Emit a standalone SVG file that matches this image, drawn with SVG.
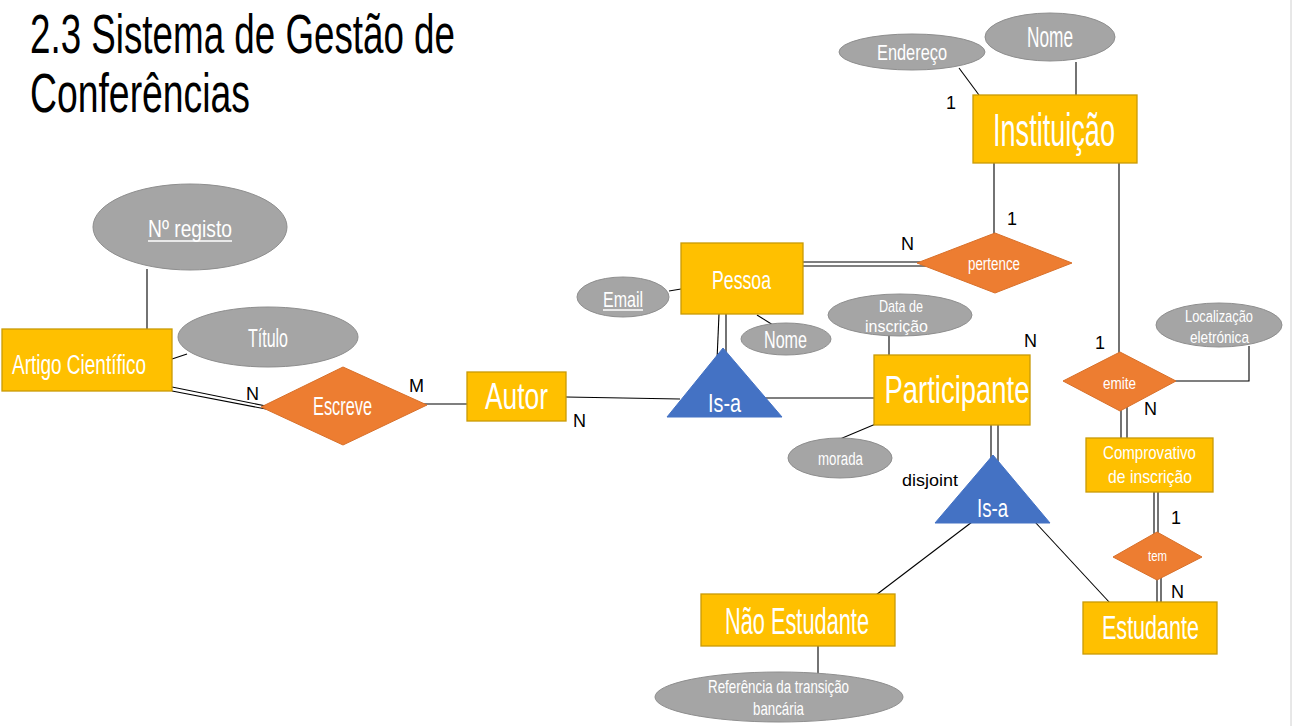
<svg xmlns="http://www.w3.org/2000/svg" width="1292" height="726" viewBox="0 0 1292 726">
<style>
.ent{fill:#FFC000;stroke:#C99A06;stroke-width:1.3}
.att{fill:#A5A5A5;stroke:#8E8E8E;stroke-width:1}
.rel{fill:#ED7D31;stroke:#D8702A;stroke-width:1}
.isa{fill:#4472C4;stroke:#4472C4;stroke-width:1}
.w{fill:#FFFFFF;font-family:"Liberation Sans",sans-serif;text-anchor:middle}
.c{fill:#000000;font-family:"Liberation Sans",sans-serif;font-size:18px}
.ttl{fill:#000000;font-family:"Liberation Sans",sans-serif;font-size:56px}
#connectors line,#connectors polyline{stroke:#000;stroke-width:1.1;fill:none}
.ul{stroke:#FFFFFF;stroke-width:1.3}
</style>
<rect x="0" y="0" width="1292" height="726" fill="#FFFFFF"/>
<line x1="1291" y1="0" x2="1291" y2="726" stroke="#D0D0D0" stroke-width="1"/>
<g id="title">
<text class="ttl" x="30" y="53" textLength="425" lengthAdjust="spacingAndGlyphs">2.3 Sistema de Gestão de</text>
<text class="ttl" x="30" y="112" textLength="220" lengthAdjust="spacingAndGlyphs">Conferências</text>
</g>
<g id="connectors">
<line x1="959" y1="68" x2="979" y2="95"/>
<line x1="1076" y1="62" x2="1076" y2="95"/>
<line x1="994" y1="163" x2="994" y2="234"/>
<line x1="1119" y1="163" x2="1119" y2="353"/>
<line x1="803" y1="262" x2="920" y2="262"/>
<line x1="803" y1="266" x2="926" y2="266"/>
<line x1="669" y1="291" x2="681" y2="289"/>
<line x1="757" y1="315" x2="773" y2="325"/>
<line x1="719" y1="314" x2="717" y2="360"/>
<line x1="726" y1="314" x2="726" y2="360"/>
<line x1="566" y1="397" x2="680" y2="399"/>
<line x1="765" y1="398" x2="874" y2="398"/>
<line x1="889" y1="333" x2="889" y2="355"/>
<line x1="840" y1="439" x2="878" y2="423"/>
<line x1="991" y1="425" x2="991" y2="465"/>
<line x1="998" y1="425" x2="998" y2="465"/>
<line x1="972" y1="522" x2="876" y2="595"/>
<line x1="1035" y1="522" x2="1110" y2="603"/>
<line x1="818" y1="646" x2="818" y2="674"/>
<polyline points="1170,381 1249,381 1249,346"/>
<line x1="1121" y1="400" x2="1121" y2="438"/>
<line x1="1127" y1="400" x2="1127" y2="438"/>
<line x1="1154" y1="492" x2="1154" y2="540"/>
<line x1="1158" y1="492" x2="1158" y2="540"/>
<line x1="1157" y1="570" x2="1157" y2="602"/>
<line x1="1161" y1="570" x2="1161" y2="602"/>
<line x1="172" y1="359" x2="187" y2="354"/>
<line x1="147" y1="269" x2="147" y2="329"/>
<line x1="172" y1="387" x2="266" y2="406"/>
<line x1="172" y1="391" x2="266" y2="409"/>
<line x1="420" y1="404" x2="467" y2="404"/>
</g>
<g id="artigo"><rect class="ent" x="2" y="329" width="170" height="62"/>
<text class="w" x="12" y="374" font-size="27" style="text-anchor:start" textLength="134" lengthAdjust="spacingAndGlyphs">Artigo Científico</text></g>
<g id="nregisto"><ellipse class="att" cx="190" cy="227" rx="97" ry="43"/>
<text class="w" x="190" y="237" font-size="24" textLength="84" lengthAdjust="spacingAndGlyphs">Nº registo</text>
<line class="ul" x1="148" y1="241" x2="232" y2="241"/></g>
<g id="titulo"><ellipse class="att" cx="268" cy="337" rx="90" ry="30"/>
<text class="w" x="268" y="347" font-size="26" textLength="40" lengthAdjust="spacingAndGlyphs">Título</text></g>
<g id="escreve"><polygon class="rel" points="261,407 343,367 427,405 343,445"/>
<text class="w" x="342.5" y="415" font-size="25" textLength="59" lengthAdjust="spacingAndGlyphs">Escreve</text></g>
<g id="autor"><rect class="ent" x="467" y="372" width="99" height="49"/>
<text class="w" x="516.5" y="409" font-size="37" textLength="63" lengthAdjust="spacingAndGlyphs">Autor</text></g>
<g id="pessoa"><rect class="ent" x="681" y="243" width="122" height="71"/>
<text class="w" x="741.5" y="289" font-size="25" textLength="59" lengthAdjust="spacingAndGlyphs">Pessoa</text></g>
<g id="email"><ellipse class="att" cx="623" cy="297" rx="46" ry="20"/>
<text class="w" x="623" y="307" font-size="22" textLength="40" lengthAdjust="spacingAndGlyphs">Email</text>
<line class="ul" x1="603" y1="310" x2="643" y2="310"/></g>
<g id="nomePessoa"><ellipse class="att" cx="786" cy="339" rx="45" ry="16"/>
<text class="w" x="785.5" y="348" font-size="24" textLength="43" lengthAdjust="spacingAndGlyphs">Nome</text></g>
<g id="isa1"><polygon class="isa" points="723,348 667,417 782,417"/>
<text class="w" x="724.5" y="412" font-size="26" textLength="33" lengthAdjust="spacingAndGlyphs">Is-a</text></g>
<g id="participante"><rect class="ent" x="874" y="355" width="156" height="70"/>
<text class="w" x="957" y="403" font-size="39" textLength="145" lengthAdjust="spacingAndGlyphs">Participante</text></g>
<g id="dataInscricao"><ellipse class="att" cx="900" cy="315" rx="72" ry="21"/>
<text class="w" x="901" y="312" font-size="17" textLength="44" lengthAdjust="spacingAndGlyphs">Data de</text>
<text class="w" x="896.5" y="332" font-size="17" textLength="63" lengthAdjust="spacingAndGlyphs">inscrição</text></g>
<g id="morada"><ellipse class="att" cx="840" cy="458" rx="52" ry="20"/>
<text class="w" x="840.5" y="465" font-size="18" textLength="45" lengthAdjust="spacingAndGlyphs">morada</text></g>
<g id="pertence"><polygon class="rel" points="917,263 995,233 1072,263 995,293"/>
<text class="w" x="994" y="270" font-size="18" textLength="52" lengthAdjust="spacingAndGlyphs">pertence</text></g>
<g id="instituicao"><rect class="ent" x="973" y="95" width="164" height="68"/>
<text class="w" x="1054" y="146" font-size="47" textLength="122" lengthAdjust="spacingAndGlyphs">Instituição</text></g>
<g id="endereco"><ellipse class="att" cx="912" cy="52" rx="73" ry="18"/>
<text class="w" x="912" y="60" font-size="22" textLength="70" lengthAdjust="spacingAndGlyphs">Endereço</text></g>
<g id="nomeInst"><ellipse class="att" cx="1050" cy="37" rx="65" ry="24"/>
<text class="w" x="1050" y="47" font-size="30" textLength="46" lengthAdjust="spacingAndGlyphs">Nome</text></g>
<g id="emite"><polygon class="rel" points="1063,381 1120,352 1176,381 1120,411"/>
<text class="w" x="1119.5" y="389" font-size="17" textLength="33" lengthAdjust="spacingAndGlyphs">emite</text></g>
<g id="localizacao"><ellipse class="att" cx="1219" cy="325" rx="63" ry="22"/>
<text class="w" x="1219" y="322" font-size="17" textLength="68" lengthAdjust="spacingAndGlyphs">Localização</text>
<text class="w" x="1219.5" y="343" font-size="17" textLength="59" lengthAdjust="spacingAndGlyphs">eletrónica</text></g>
<g id="comprovativo"><rect class="ent" x="1086" y="438" width="127" height="54"/>
<text class="w" x="1149.5" y="459" font-size="19" textLength="93" lengthAdjust="spacingAndGlyphs">Comprovativo</text>
<text class="w" x="1150" y="483" font-size="19" textLength="84" lengthAdjust="spacingAndGlyphs">de inscrição</text></g>
<g id="tem"><polygon class="rel" points="1113,557 1157,532 1202,557 1157,580"/>
<text class="w" x="1157.5" y="561" font-size="14" textLength="19" lengthAdjust="spacingAndGlyphs">tem</text></g>
<g id="estudante"><rect class="ent" x="1083" y="602" width="134" height="52"/>
<text class="w" x="1150.5" y="639" font-size="34" textLength="97" lengthAdjust="spacingAndGlyphs">Estudante</text></g>
<g id="isa2"><polygon class="isa" points="993,455 935,523 1050,523"/>
<text class="w" x="992.5" y="517" font-size="26" textLength="31" lengthAdjust="spacingAndGlyphs">Is-a</text></g>
<g id="naoEstudante"><rect class="ent" x="701" y="594" width="194" height="52"/>
<text class="w" x="797" y="634" font-size="37" textLength="144" lengthAdjust="spacingAndGlyphs">Não Estudante</text></g>
<g id="referencia"><ellipse class="att" cx="779" cy="697" rx="124" ry="25"/>
<text class="w" x="778.5" y="693" font-size="19" textLength="141" lengthAdjust="spacingAndGlyphs">Referência da transição</text>
<text class="w" x="778.5" y="715" font-size="19" textLength="51" lengthAdjust="spacingAndGlyphs">bancária</text></g>
<g id="labels">
<text class="c" x="946" y="109">1</text>
<text class="c" x="1007" y="225">1</text>
<text class="c" x="901" y="250">N</text>
<text class="c" x="246" y="400">N</text>
<text class="c" x="409" y="392">M</text>
<text class="c" x="573" y="427">N</text>
<text class="c" x="1024" y="347">N</text>
<text class="c" x="1095" y="349">1</text>
<text class="c" x="1144" y="415">N</text>
<text class="c" x="1171" y="524">1</text>
<text class="c" x="1171" y="598">N</text>
<text class="c" x="902" y="486" style="font-size:17px" textLength="56" lengthAdjust="spacingAndGlyphs">disjoint</text>
</g>
</svg>
